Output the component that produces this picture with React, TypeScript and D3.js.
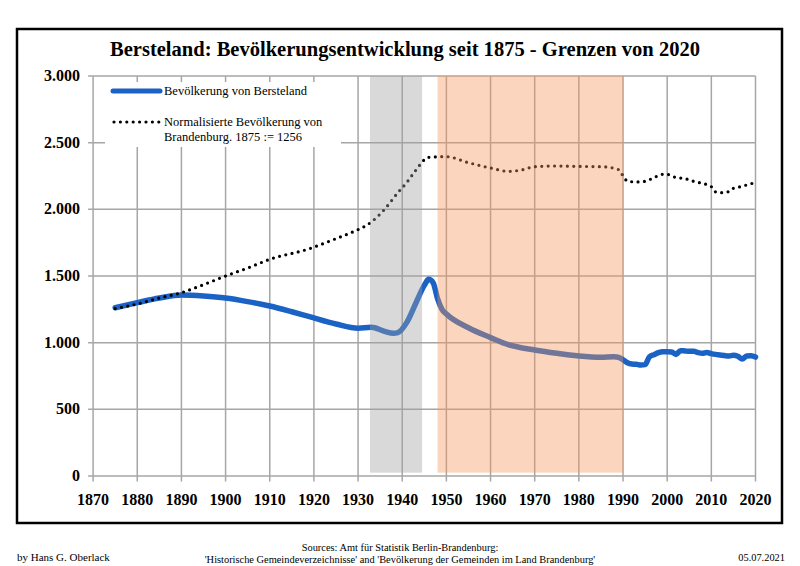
import React from "react";
import * as d3 from "d3";

const title = "Bersteland: Bevölkerungsentwicklung seit 1875 - Grenzen von 2020";
const xTicks = [1870, 1880, 1890, 1900, 1910, 1920, 1930, 1940, 1950, 1960, 1970, 1980, 1990, 2000, 2010, 2020];
const yTicks = [0, 500, 1000, 1500, 2000, 2500, 3000];

const popYears = [1875, 1880, 1885, 1890, 1895, 1900, 1905, 1910, 1915, 1919, 1925, 1930, 1933, 1936, 1938, 1939, 1941, 1943, 1945, 1946, 1947, 1948, 1949, 1950, 1955, 1960, 1964, 1970, 1975, 1980, 1985, 1988, 1989, 1990, 1991, 1992, 1993, 1994, 1995, 1996, 1997, 1998, 1999, 2000, 2001, 2002, 2003, 2004, 2005, 2006, 2007, 2008, 2009, 2010, 2011, 2012, 2013, 2014, 2015, 2016, 2017, 2018, 2019, 2020];
const popValues = [1262, 1300, 1335, 1357, 1350, 1335, 1308, 1275, 1232, 1195, 1140, 1108, 1115, 1085, 1070, 1075, 1150, 1290, 1430, 1475, 1450, 1330, 1250, 1215, 1112, 1038, 985, 945, 920, 900, 890, 895, 890, 872, 850, 840, 838, 832, 835, 895, 910, 925, 932, 932, 930, 912, 940, 938, 935, 935, 925, 920, 927, 918, 912, 908, 903, 900, 905, 898, 878, 900, 902, 892];

const bbYears = [1875, 1880, 1885, 1890, 1895, 1900, 1905, 1910, 1919, 1925, 1929, 1933, 1936, 1939, 1941, 1943, 1946, 1950, 1955, 1960, 1964, 1967, 1970, 1975, 1980, 1985, 1989, 1990, 1991, 1993, 1995, 1997, 1999, 2000, 2001, 2003, 2005, 2006, 2008, 2009, 2010, 2011, 2012, 2014, 2015, 2017, 2018, 2020];
const bbValues = [1256, 1290, 1335, 1375, 1435, 1500, 1560, 1625, 1705, 1780, 1833, 1905, 2000, 2125, 2200, 2290, 2390, 2395, 2350, 2310, 2285, 2295, 2320, 2325, 2322, 2320, 2298, 2250, 2212, 2205, 2210, 2238, 2263, 2263, 2248, 2235, 2222, 2210, 2195, 2185, 2170, 2130, 2125, 2133, 2158, 2172, 2183, 2200];

const periodStarts = [1932.7, 1948];
const periodEnds = [1944.5, 1990];
const periodColors = ["#a0a0a0", "#f5965a"];
const shadeTop = 3000;
const shadeBottom = 25;

const legendLabels = ["Bevölkerung von Bersteland", "Normalisierte Bevölkerung von", "Brandenburg. 1875 := 1256"];
const footLeft = "by Hans G. Oberlack";
const footCenter = ["Sources: Amt für Statistik Berlin-Brandenburg:", "'Historische Gemeindeverzeichnisse' and 'Bevölkerung der Gemeinden im Land Brandenburg'"];
const footRight = "05.07.2021";

const fmt = (v: number) => d3.format(",")(v).replace(/,/g, ".");

export default function App() {
  const x = d3.scaleLinear().domain([1870, 2020]).range([93.1, 755.5]);
  const y = d3.scaleLinear().domain([0, 3000]).range([476, 76]);
  const gridColor = "#a6a6a6";
  const serif = "'Liberation Serif', 'DejaVu Serif', serif";

  const popLine = d3
    .line<number>()
    .x((_, i) => x(popYears[i]))
    .y((v) => y(v))
    .curve(d3.curveMonotoneX)(popValues) as string;
  const bbLine = d3
    .line<number>()
    .x((_, i) => x(bbYears[i]))
    .y((v) => y(v))
    .curve(d3.curveMonotoneX)(bbValues) as string;

  return (
    <svg width={800} height={566} style={{ position: "absolute", left: 0, top: 0, background: "#fff" }} fontFamily={serif}>
      <rect x={0} y={0} width={800} height={566} fill="#fff" />
      <rect x={17} y={29} width={765} height={494} fill="#fff" stroke="#000" strokeWidth={2.5} />
      <text x={405} y={56} textAnchor="middle" fontWeight="bold" fontSize={20} textLength={590} lengthAdjust="spacingAndGlyphs">
        {title}
      </text>
      {/* grid */}
      {xTicks.map((t) => (
        <line key={"vx" + t} x1={x(t)} x2={x(t)} y1={y(3000)} y2={y(0) + 5.5} stroke={gridColor} strokeWidth={1.5} />
      ))}
      {yTicks.map((t) => (
        <line key={"hy" + t} x1={x(1870) - 5} x2={x(2020)} y1={y(t)} y2={y(t)} stroke={gridColor} strokeWidth={1.5} />
      ))}
      {yTicks.map((t) => (
        <text key={"yl" + t} x={80} y={y(t) + 5} textAnchor="end" fontWeight="bold" fontSize={16}>
          {fmt(t)}
        </text>
      ))}
      {xTicks.map((t) => (
        <text key={"xl" + t} x={x(t)} y={505} textAnchor="middle" fontWeight="bold" fontSize={16}>
          {t}
        </text>
      ))}
      {/* lines */}
      <path d={popLine} fill="none" stroke="#1a62c4" strokeWidth={5.5} strokeLinejoin="round" strokeLinecap="round" />
      <path d={bbLine} fill="none" stroke="#000" strokeWidth={3.2} strokeDasharray="0 6.4" strokeLinecap="round" />
      {/* shading overlays */}
      {periodStarts.map((s, i) => (
        <rect
          key={"p" + i}
          x={x(s)}
          width={x(periodEnds[i]) - x(s)}
          y={y(shadeTop)}
          height={y(shadeBottom) - y(shadeTop)}
          fill={periodColors[i]}
          fillOpacity={0.4}
        />
      ))}
      {/* legend */}
      <rect x={105} y={82} width={236} height={65} fill="#fff" />
      <line x1={113} x2={160} y1={91} y2={91} stroke="#1a62c4" strokeWidth={5} strokeLinecap="round" />
      <text x={164} y={95} fontSize={12.5}>{legendLabels[0]}</text>
      <line x1={114} x2={160} y1={122} y2={122} stroke="#000" strokeWidth={3.2} strokeDasharray="0 6.4" strokeLinecap="round" />
      <text x={164} y={126} fontSize={12.5}>{legendLabels[1]}</text>
      <text x={164} y={141} fontSize={12.5}>{legendLabels[2]}</text>
      {/* footer */}
      <text x={17} y={561} fontSize={11}>{footLeft}</text>
      <text x={400} y={551} textAnchor="middle" fontSize={10.4}>{footCenter[0]}</text>
      <text x={400} y={563} textAnchor="middle" fontSize={10.4}>{footCenter[1]}</text>
      <text x={785} y={561} textAnchor="end" fontSize={10.4}>{footRight}</text>
    </svg>
  );
}
